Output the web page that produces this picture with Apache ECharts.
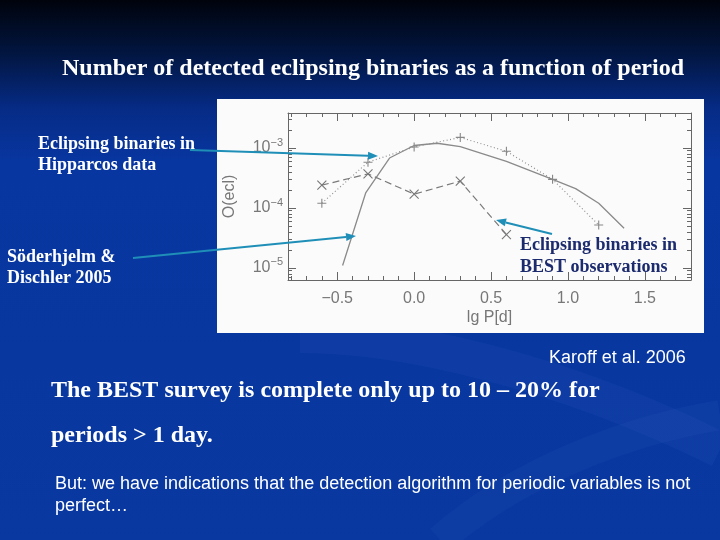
<!DOCTYPE html>
<html>
<head>
<meta charset="utf-8">
<script src="https://cdn.jsdelivr.net/npm/echarts@6/dist/echarts.min.js"></script>
<style>html,body{margin:0;padding:0;background:#0838a0;}#c{width:720px;height:540px;}</style>
</head>
<body>
<div id="c"></div>
<script>
// ---- data ----
// BEST observations (dashed, x markers)
const bestPeriod = [-0.6, -0.3, 0.0, 0.3, 0.6];
const bestValues = [2.4e-4, 3.7e-4, 1.7e-4, 2.8e-4, 3.6e-5];
// Hipparcos data (dotted, + markers)
const hipPeriod = [-0.6, -0.3, 0.0, 0.3, 0.6, 0.9, 1.2];
const hipValues = [1.2e-4, 5.8e-4, 1.04e-3, 1.5e-3, 8.8e-4, 3.0e-4, 5.2e-5];
// Söderhjelm & Dischler 2005 (solid)
const sdPeriod = [-0.465, -0.315, -0.16, 0.0, 0.15, 0.30, 0.60, 0.90, 1.05, 1.20, 1.365];
const sdValues = [1.1e-5, 1.78e-4, 6.8e-4, 1.1e-3, 1.2e-3, 1.05e-3, 6.0e-4, 3.0e-4, 2.1e-4, 1.2e-4, 4.6e-5];
// ticks
const xMajorTicks = [-0.5, 0.0, 0.5, 1.0, 1.5];
const xMinorTicks = [-0.8, -0.7, -0.6, -0.4, -0.3, -0.2, -0.1, 0.1, 0.2, 0.3, 0.4, 0.6, 0.7, 0.8, 0.9, 1.1, 1.2, 1.3, 1.4, 1.6, 1.7, 1.8];
const yMajorTicks = [1e-5, 1e-4, 1e-3];
const yMinorTicks = [7e-6, 8e-6, 9e-6, 2e-5, 3e-5, 4e-5, 5e-5, 6e-5, 7e-5, 8e-5, 9e-5,
                     2e-4, 3e-4, 4e-4, 5e-4, 6e-4, 7e-4, 8e-4, 9e-4, 2e-3, 3e-3];

const zip = (xs, ys) => xs.map((x, i) => [x, ys[i]]);

const X_MIN = -0.82, X_MAX = 1.8;
const Y_MIN = 6.3e-6, Y_MAX = 3.83e-3;
const AX = '#666';
const TXT = '#777';

function xAxisDef(pos, ticks, len, showLine, labels) {
  return {
    type: 'value', min: X_MIN, max: X_MAX, position: pos,
    axisLine: { show: showLine, onZero: false, lineStyle: { color: AX, width: 1 } },
    splitLine: { show: false },
    axisTick: { show: true, inside: true, length: len, customValues: ticks, lineStyle: { color: AX, width: 1 } },
    axisLabel: labels ? {
      customValues: xMajorTicks, color: TXT, fontSize: 16, margin: 11,
      fontFamily: 'Liberation Sans, Arial, sans-serif',
      formatter: v => v.toFixed(1).replace('-', '\u2212')
    } : { show: false },
    name: labels ? 'lg P[d]' : '',
    nameLocation: 'middle', nameGap: 30,
    nameTextStyle: { color: TXT, fontSize: 16, fontFamily: 'Liberation Sans, Arial, sans-serif' }
  };
}
function yAxisDef(pos, ticks, len, showLine, labels) {
  return {
    type: 'log', logBase: 10, min: Y_MIN, max: Y_MAX, position: pos,
    axisLine: { show: showLine, onZero: false, lineStyle: { color: AX, width: 1 } },
    splitLine: { show: false },
    minorTick: { show: false },
    axisTick: { show: true, inside: true, length: len, customValues: ticks, lineStyle: { color: AX, width: 1 } },
    axisLabel: labels ? {
      customValues: yMajorTicks, margin: 5,
      formatter: v => '{b|10}{s|\u2212' + Math.round(-Math.log10(v)) + '}',
      rich: {
        b: { fontSize: 16, color: TXT, fontFamily: 'Liberation Sans, Arial, sans-serif', lineHeight: 22 },
        s: { fontSize: 11, color: TXT, fontFamily: 'Liberation Sans, Arial, sans-serif', lineHeight: 12, verticalAlign: 'top' }
      }
    } : { show: false },
    name: labels ? 'O(ecl)' : '',
    nameLocation: 'middle', nameGap: 50, nameRotate: 90,
    nameTextStyle: { color: TXT, fontSize: 16, fontFamily: 'Liberation Sans, Arial, sans-serif' }
  };
}

const plusPath = 'path://M0 5 L10 5 M5 0 L5 10';
const crossPath = 'path://M0 0 L10 10 M10 0 L0 10';

const serif = '"Liberation Serif", "Times New Roman", serif';
const sans = '"Liberation Sans", Arial, sans-serif';
const ARROW = '#1f8fb8';

function arrow(x1, y1, x2, y2) {
  const ang = Math.atan2(y2 - y1, x2 - x1);
  const L = 10, W = 4;
  const bx = x2 - L * Math.cos(ang), by = y2 - L * Math.sin(ang);
  const px = -Math.sin(ang) * W, py = Math.cos(ang) * W;
  return [
    { type: 'line', z: 100, shape: { x1: x1, y1: y1, x2: bx, y2: by }, style: { stroke: ARROW, lineWidth: 2 } },
    { type: 'polygon', z: 100, shape: { points: [[x2, y2], [bx + px, by + py], [bx - px, by - py]] }, style: { fill: ARROW } }
  ];
}

function txt(t, x, y, font, fill, z) {
  return { type: 'text', z: z || 50, x: x, y: y, style: { text: t, font: font, fill: fill, align: 'left', verticalAlign: 'middle' } };
}

const chart = echarts.init(document.getElementById('c'), null, { renderer: 'canvas' });
chart.setOption({
  animation: false,
  backgroundColor: 'transparent',
  graphic: [
    { type: 'rect', z: -20, shape: { x: 0, y: 0, width: 720, height: 540 },
      style: { fill: { type: 'linear', x: 0, y: 0, x2: 0, y2: 1, colorStops: [
        { offset: 0, color: '#00030c' }, { offset: 0.1, color: '#021641' },
        { offset: 0.2, color: '#062b85' }, { offset: 0.3, color: '#0836a0' },
        { offset: 1, color: '#0838a0' }] } } },
    { type: 'bezierCurve', z: -19, shape: { x1: 300, y1: 335, cpx1: 400, cpy1: 335, cpx2: 560, cpy2: 370, x2: 720, y2: 450 },
      style: { stroke: 'rgba(120,160,230,0.06)', lineWidth: 36, fill: null } },
    { type: 'bezierCurve', z: -19, shape: { x1: 440, y1: 540, cpx1: 520, cpy1: 470, cpx2: 630, cpy2: 430, x2: 720, y2: 415 },
      style: { stroke: 'rgba(120,160,230,0.05)', lineWidth: 30, fill: null } },
    { type: 'rect', z: -10, shape: { x: 217, y: 99, width: 487, height: 234 }, style: { fill: '#fbfbfb' } },
    txt('Number of detected eclipsing binaries as a function of period', 62, 69, 'bold 24px ' + serif, '#ffffff'),
    txt('Eclipsing binaries in', 38, 144, 'bold 18px ' + serif, '#ffffff'),
    txt('Hipparcos data', 38, 165, 'bold 18px ' + serif, '#ffffff'),
    txt('Söderhjelm &', 7, 257, 'bold 18px ' + serif, '#ffffff'),
    txt('Dischler 2005', 7, 278, 'bold 18px ' + serif, '#ffffff'),
    txt('Eclipsing binaries in', 520, 245, 'bold 18px ' + serif, '#1c2a6e'),
    txt('BEST observations', 520, 267, 'bold 18px ' + serif, '#1c2a6e'),
    txt('Karoff et al. 2006', 549, 358, '18px ' + sans, '#ffffff'),
    txt('The BEST survey is complete only up to 10 \u2013 20% for', 51, 391, 'bold 24px ' + serif, '#ffffff'),
    txt('periods > 1 day.', 51, 436, 'bold 24px ' + serif, '#ffffff'),
    txt('But: we have indications that the detection algorithm for periodic variables is not', 55, 484, '18px ' + sans, '#ffffff'),
    txt('perfect\u2026', 55, 506, '18px ' + sans, '#ffffff')
  ].concat(arrow(190, 150, 378, 156), arrow(133, 258, 356, 236), arrow(552, 234, 496, 220)),
  grid: { left: 288, right: 29, top: 113, bottom: 260, containLabel: false },
  xAxis: [
    xAxisDef('bottom', xMajorTicks, 8, true, true),
    xAxisDef('bottom', xMinorTicks, 4, false, false),
    xAxisDef('top', xMajorTicks, 8, true, false),
    xAxisDef('top', xMinorTicks, 4, false, false)
  ],
  yAxis: [
    yAxisDef('left', yMajorTicks, 8, true, true),
    yAxisDef('left', yMinorTicks, 4, false, false),
    yAxisDef('right', yMajorTicks, 8, true, false),
    yAxisDef('right', yMinorTicks, 4, false, false)
  ],
  series: [
    { type: 'line', name: 'Söderhjelm & Dischler 2005', data: zip(sdPeriod, sdValues),
      xAxisIndex: 0, yAxisIndex: 0, showSymbol: false, symbol: 'none',
      lineStyle: { color: '#8a8a8a', width: 1.3, type: 'solid' } },
    { type: 'line', name: 'Hipparcos', data: zip(hipPeriod, hipValues),
      xAxisIndex: 0, yAxisIndex: 0, symbol: plusPath, symbolSize: 9,
      itemStyle: { color: 'none', borderColor: '#888', borderWidth: 1.1 },
      lineStyle: { color: '#909090', width: 1.2, type: [1, 2.5] } },
    { type: 'line', name: 'BEST', data: zip(bestPeriod, bestValues),
      xAxisIndex: 0, yAxisIndex: 0, symbol: crossPath, symbolSize: 9,
      itemStyle: { color: 'none', borderColor: '#777', borderWidth: 1.1 },
      lineStyle: { color: '#7a7a7a', width: 1.2, type: [7, 4] } }
  ]
});
</script>
</body>
</html>
